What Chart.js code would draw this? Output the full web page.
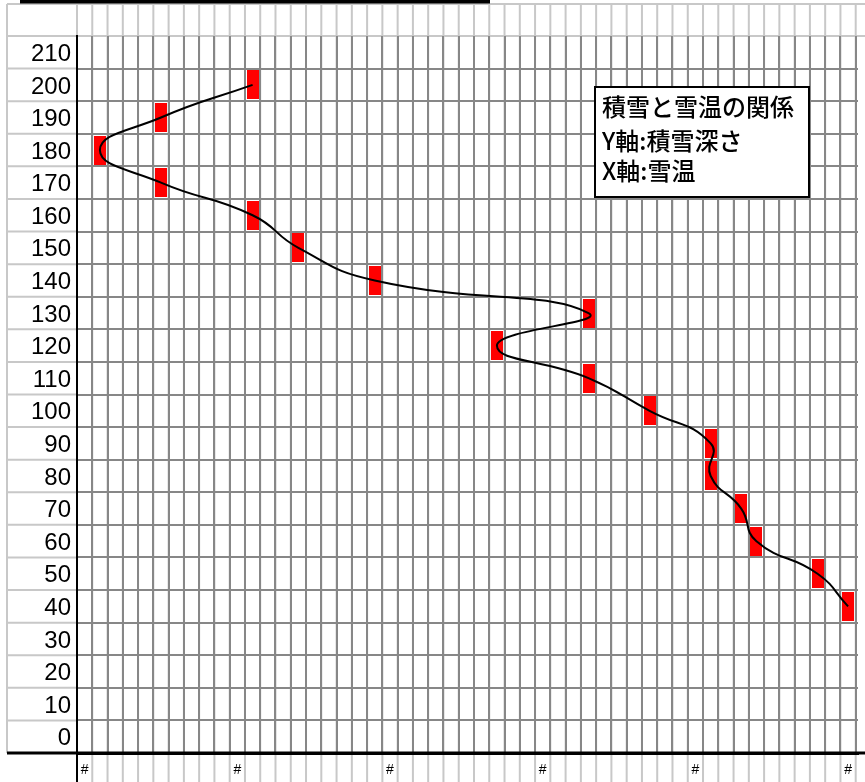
<!DOCTYPE html>
<html>
<head>
<meta charset="utf-8">
<script src="https://cdn.jsdelivr.net/npm/chart.js@4/dist/chart.umd.min.js"></script>
<style>
  html, body { margin: 0; padding: 0; background: #fff; overflow: hidden; }
  #c { display: block; }
</style>
</head>
<body>
<canvas id="c" width="865" height="782"></canvas>
<script>
// Snow depth (cm) and snow temperature (°C) measured at each depth
const depths     = [200, 190, 180, 170, 160, 150, 140, 130, 120, 110, 100, 90, 80, 70, 60, 50, 40];
const snowTemps  = [-3.9, -4.5, -4.9, -4.5, -3.9, -3.6, -3.1, -1.7, -2.3, -1.7, -1.3, -0.9, -0.9, -0.7, -0.6, -0.2, 0.0];

// Axis ticks and their labels
const depthTicks     = [0, 10, 20, 30, 40, 50, 60, 70, 80, 90, 100, 110, 120, 130, 140, 150, 160, 170, 180, 190, 200, 210];
const tempTicks      = [-5, -4, -3, -2, -1, 0];
const tempTickLabels = ['#', '#', '#', '#', '#', '#'];

// Text of the note box
const noteLines = ['積雪と雪温の関係', 'Y軸:積雪深さ', 'X軸:雪温'];

const CJK_FONT = '"Noto Sans CJK JP", "Noto Sans", sans-serif';
const NUM_FONT = '"Liberation Sans", Arial, sans-serif';

// Ranges: each depth sits in the middle of a 10 cm row, each temperature in the middle of a 0.1 °C column
const Y_MIN = -5, Y_MAX = 215;
const X_MIN = -5.05, X_MAX = 0.065;

// Row and column borders used for the grid
const rowBorders = depthTicks.map(v => v + 5).filter(v => v < Y_MAX);
const colBorders = [];
for (let k = 0; X_MIN + k * 0.1 <= X_MAX + 1e-9; k++) colBorders.push(+(X_MIN + k * 0.1).toFixed(3));

// Red rectangular marker
const marker = document.createElement('canvas');
marker.width = 12; marker.height = 29;
const mctx = marker.getContext('2d');
mctx.fillStyle = '#ff0000';
mctx.fillRect(0, 0, marker.width, marker.height);

const points = snowTemps.map((t, i) => ({ x: t, y: depths[i] }));

const SHEET_GRAY = '#c8c8c8';
const SHEET_LEFT = 7;

const sheetPlugin = {
  id: 'sheet',
  beforeDraw(chart) {
    const { ctx, chartArea: a, width, height } = chart;
    const xg = chart.scales.xg, yg = chart.scales.yg;
    ctx.save();
    ctx.fillStyle = '#fff';
    ctx.fillRect(0, 0, width, height);
    ctx.strokeStyle = SHEET_GRAY;
    ctx.lineWidth = 2;
    ctx.beginPath();
    colBorders.forEach(v => {
      const px = xg.getPixelForValue(v);
      ctx.moveTo(px, 4); ctx.lineTo(px, height);
    });
    ctx.moveTo(SHEET_LEFT, 4); ctx.lineTo(SHEET_LEFT, a.bottom);
    ctx.moveTo(SHEET_LEFT, 4); ctx.lineTo(width, 4);
    ctx.moveTo(SHEET_LEFT, a.top); ctx.lineTo(width, a.top);
    rowBorders.forEach(v => {
      const py = yg.getPixelForValue(v);
      ctx.moveTo(SHEET_LEFT, py); ctx.lineTo(a.left, py);
    });
    ctx.stroke();
    ctx.restore();
  },
  afterDraw(chart) {
    const { ctx, chartArea: a, width, height } = chart;
    ctx.save();
    // axis lines carried past the plot
    ctx.strokeStyle = '#000';
    ctx.lineWidth = 3;
    ctx.beginPath();
    ctx.moveTo(SHEET_LEFT, a.bottom); ctx.lineTo(width, a.bottom);
    ctx.stroke();
    ctx.lineWidth = 2;
    ctx.beginPath();
    ctx.moveTo(a.left, a.top); ctx.lineTo(a.left, height);
    ctx.stroke();
    // dark band along the top edge
    ctx.fillStyle = '#000';
    ctx.fillRect(20, 0, 470, 3.5);
    // note box
    ctx.fillStyle = '#fff';
    ctx.fillRect(595, 87, 214, 110);
    ctx.strokeStyle = '#000';
    ctx.lineWidth = 2;
    ctx.strokeRect(595, 87, 214, 110);
    ctx.fillStyle = '#000';
    ctx.font = '500 24px ' + CJK_FONT;
    ctx.textBaseline = 'middle';
    ctx.textAlign = 'left';
    const ys = [107, 141, 171];
    noteLines.forEach((t, i) => ctx.fillText(t, 602, ys[i]));
    ctx.restore();
  }
};

new Chart(document.getElementById('c'), {
  type: 'scatter',
  data: {
    datasets: [
      {
        label: '積雪深さ',
        data: points,
        showLine: true,
        borderColor: '#000',
        borderWidth: 2,
        tension: 0.5,
        pointRadius: 0,
        fill: false,
        order: 0,
        xAxisID: 'x',
        yAxisID: 'y'
      },
      {
        label: '雪温',
        data: points,
        showLine: false,
        pointStyle: marker,
        pointRadius: 6,
        order: 1,
        xAxisID: 'x',
        yAxisID: 'y'
      }
    ]
  },
  options: {
    responsive: false,
    devicePixelRatio: 1,
    animation: false,
    events: [],
    layout: { padding: { top: 36, left: 0, right: 0, bottom: 0 } },
    plugins: { legend: { display: false }, tooltip: { enabled: false } },
    scales: {
      x: {
        type: 'linear', position: 'bottom', min: X_MIN, max: X_MAX,
        afterBuildTicks: s => { s.ticks = tempTicks.map(v => ({ value: v })); },
        afterFit: s => { s.height = 29; },
        ticks: {
          autoSkip: false, maxRotation: 0, padding: 9,
          color: '#000', font: { family: NUM_FONT, size: 14 },
          callback: (v, i) => tempTickLabels[i]
        },
        grid: { display: false, drawTicks: false },
        border: { display: true, color: '#000', width: 3 }
      },
      xg: {
        type: 'linear', position: 'bottom', min: X_MIN, max: X_MAX,
        afterBuildTicks: s => { s.ticks = colBorders.map(v => ({ value: v })); },
        afterFit: s => { s.height = 0; },
        ticks: { display: false },
        grid: { color: '#878787', lineWidth: 2, drawTicks: false },
        border: { display: false }
      },
      y: {
        type: 'linear', position: 'left', min: Y_MIN, max: Y_MAX,
        afterBuildTicks: s => { s.ticks = depthTicks.map(v => ({ value: v })); },
        afterFit: s => { s.width = 77; },
        ticks: {
          autoSkip: false, padding: 6, labelOffset: 2,
          color: '#000', font: { family: NUM_FONT, size: 24 },
          callback: v => String(v)
        },
        grid: { display: false, drawTicks: false },
        border: { display: true, color: '#000', width: 2 }
      },
      yg: {
        type: 'linear', position: 'left', min: Y_MIN, max: Y_MAX,
        afterBuildTicks: s => { s.ticks = rowBorders.map(v => ({ value: v })); },
        afterFit: s => { s.width = 0; },
        ticks: { display: false },
        grid: { color: '#878787', lineWidth: 2, drawTicks: false },
        border: { display: false }
      }
    }
  },
  plugins: [sheetPlugin]
});
</script>
</body>
</html>
